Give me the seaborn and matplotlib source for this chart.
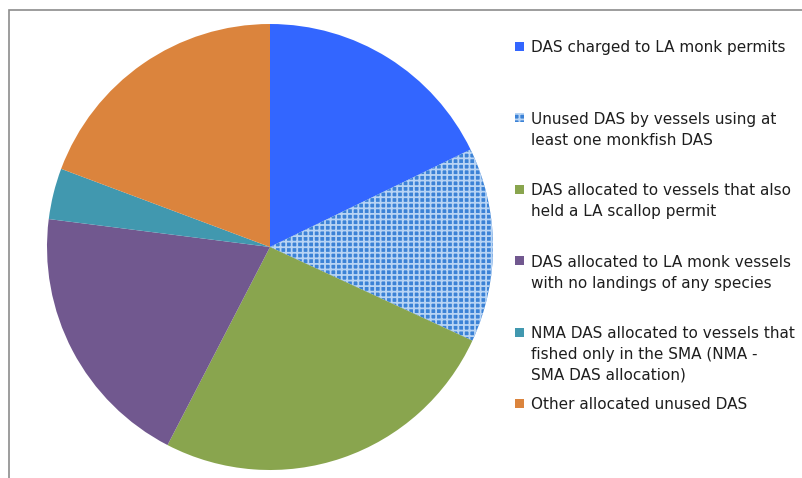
import numpy as np
import seaborn as sns
import matplotlib.pyplot as plt
from matplotlib.patches import Rectangle

# share of DAS (percent), clockwise from 12 o'clock
categories = [
    "DAS charged to LA monk permits",
    "Unused DAS by vessels using at\nleast one monkfish DAS",
    "DAS allocated to vessels that also\nheld a LA scallop permit",
    "DAS allocated to LA monk vessels\nwith no landings of any species",
    "NMA DAS allocated to vessels that\nfished only in the SMA (NMA -\nSMA DAS allocation)",
    "Other allocated unused DAS",
]
shares = [17.8, 14.1, 25.7, 19.4, 3.7, 19.3]
colors = ["#3366FF", "#3B82D6", "#89A54E", "#71588F", "#4198AF", "#DB843D"]
hatches = [None, "+++", None, None, None, None]
hatch_color = "#B8D4F4"

sns.set_theme(style="white")
plt.rcParams["font.family"] = ["DejaVu Sans"]
plt.rcParams["hatch.linewidth"] = 1.3

W, H = 803, 478
fig = plt.figure(figsize=(W / 100, H / 100), dpi=100)

# pie centre and radius in pixels
cx, cy, r = 270, 247, 223
ax = fig.add_axes([(cx - r) / W, (H - cy - r) / H, 2 * r / W, 2 * r / H])
wedges, _ = ax.pie(shares, colors=colors, startangle=90, counterclock=False,
                   wedgeprops=dict(linewidth=0))
for w, h in zip(wedges, hatches):
    if h:
        w.set_hatch(h)
        w.set_edgecolor(hatch_color)
        w.set_linewidth(0)
ax.set_xlim(-1, 1)
ax.set_ylim(-1, 1)
ax.set_aspect("equal")
ax.axis("off")

# outer chart frame (only top/left edges visible in the crop)
fig.add_artist(Rectangle((9 / W, -0.1), 1.2, 1.1 - 10 / H, transform=fig.transFigure,
                         fill=False, edgecolor="#8C8C8C", linewidth=1.2))

# legend, Excel-style: equal spacing per entry, marker on first line
y0, step = 46.5, 71.4
for i, (lab, col, h) in enumerate(zip(categories, colors, hatches)):
    yc = y0 + i * step
    fig.add_artist(Rectangle((515 / W, 1 - (yc + 4.5) / H), 9 / W, 9 / H,
                             transform=fig.transFigure, facecolor=col,
                             edgecolor=hatch_color if h else col, linewidth=0,
                             hatch=h))
    fig.text(531 / W, 1 - (yc - 6.2) / H, lab, ha="left", va="top",
             fontsize=11, color="#1E1E1E", linespacing=1.5)

fig.savefig("out.png", dpi=100)
